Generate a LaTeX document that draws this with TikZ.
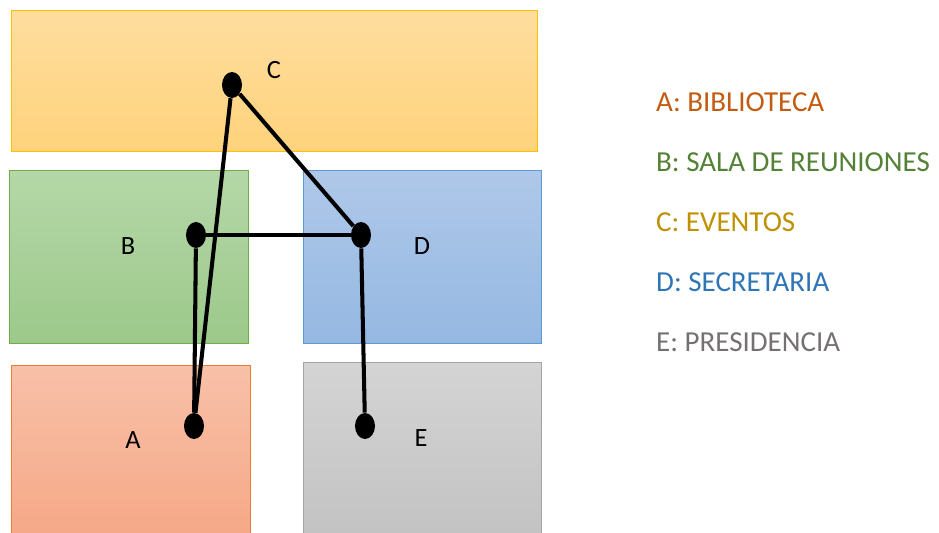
\documentclass[tikz,border=0pt]{standalone}
\usepackage{fontspec}
\setmainfont{Carlito}
\usetikzlibrary{shapes.geometric, positioning}
\definecolor{eventsorange}{HTML}{FFC000}
\definecolor{meetgreen}{HTML}{70AD47}
\definecolor{secblue}{HTML}{5B9BD5}
\definecolor{libred}{HTML}{ED7D31}
\definecolor{presgray}{HTML}{A5A5A5}
\definecolor{eventstop}{HTML}{FEDD9E}
\definecolor{eventsbot}{HTML}{FFD37C}
\definecolor{meettop}{HTML}{B5D7A8}
\definecolor{meetbot}{HTML}{9CC98A}
\definecolor{sectop}{HTML}{AFC8E9}
\definecolor{secbot}{HTML}{95B8E2}
\definecolor{libtop}{HTML}{F8C0A8}
\definecolor{libbot}{HTML}{F5A886}
\definecolor{prestop}{HTML}{D4D4D4}
\definecolor{presbot}{HTML}{C2C2C2}
\definecolor{libtext}{HTML}{C55A11}
\definecolor{meettext}{HTML}{538135}
\definecolor{eventstext}{HTML}{BF9000}
\definecolor{sectext}{HTML}{2E75B6}
\definecolor{prestext}{HTML}{767171}

\begin{document}
\begin{tikzpicture}[
  x=0.02cm, y=-0.02cm,
  room/.style={rectangle, anchor=north west, inner sep=0pt, line width=0.6pt},
  spot/.style={ellipse, fill=black, minimum width=0.4cm, minimum height=0.52cm, inner sep=0pt},
  letter/.style={font=\fontsize{15}{17}\selectfont, text=black},
  legend/.style={anchor=west, font=\fontsize{16.5}{18}\selectfont},
  path/.style={line width=2.3pt, black}
]
  \useasboundingbox (0,0) rectangle (939,533);

  % Rooms
  \node[room, draw=eventsorange, top color=eventstop, bottom color=eventsbot,
        minimum width=10.52cm, minimum height=2.82cm] (events) at (11,10) {};
  \node[room, draw=meetgreen, top color=meettop, bottom color=meetbot,
        minimum width=4.78cm, minimum height=3.46cm] (meeting) at (9,170) {};
  \node[room, draw=secblue, top color=sectop, bottom color=secbot,
        minimum width=4.76cm, minimum height=3.46cm] (secretary) at (303,170) {};
  \node[room, draw=libred, top color=libtop, bottom color=libbot,
        minimum width=4.78cm, minimum height=3.5cm] (library) at (11,365) {};
  \node[room, draw=presgray, top color=prestop, bottom color=presbot,
        minimum width=4.76cm, minimum height=3.6cm] (presidency) at (303,362) {};

  % Spots
  \node[spot] (c) at (232,85) {};
  \node[spot] (b) at (196,235) {};
  \node[spot] (d) at (361,235) {};
  \node[spot] (a) at (194,426) {};
  \node[spot] (e) at (365,426) {};

  % Connections
  \draw[path] (c) -- (a);
  \draw[path] (c) -- (d);
  \draw[path] (b) -- (d);
  \draw[path] (b) -- (a);
  \draw[path] (d) -- (e);

  % Letters
  \node[letter] (clabel) at (274,70) {C};
  \node[letter] (blabel) at (128,246) {B};
  \node[letter] (dlabel) at (422,246) {D};
  \node[letter] (alabel) at (133,440) {A};
  \node[letter] (elabel) at (421,438) {E};

  % Legend
  \node[legend, text=libtext] (lega) at (650,102) {A: BIBLIOTECA};
  \node[legend, text=meettext] (legb) at ([yshift=-1.2cm]lega.west) {B: SALA DE REUNIONES};
  \node[legend, text=eventstext] (legc) at ([yshift=-1.2cm]legb.west) {C: EVENTOS};
  \node[legend, text=sectext] (legd) at ([yshift=-1.2cm]legc.west) {D: SECRETARIA};
  \node[legend, text=prestext] (lege) at ([yshift=-1.2cm]legd.west) {E: PRESIDENCIA};
\end{tikzpicture}
\end{document}
